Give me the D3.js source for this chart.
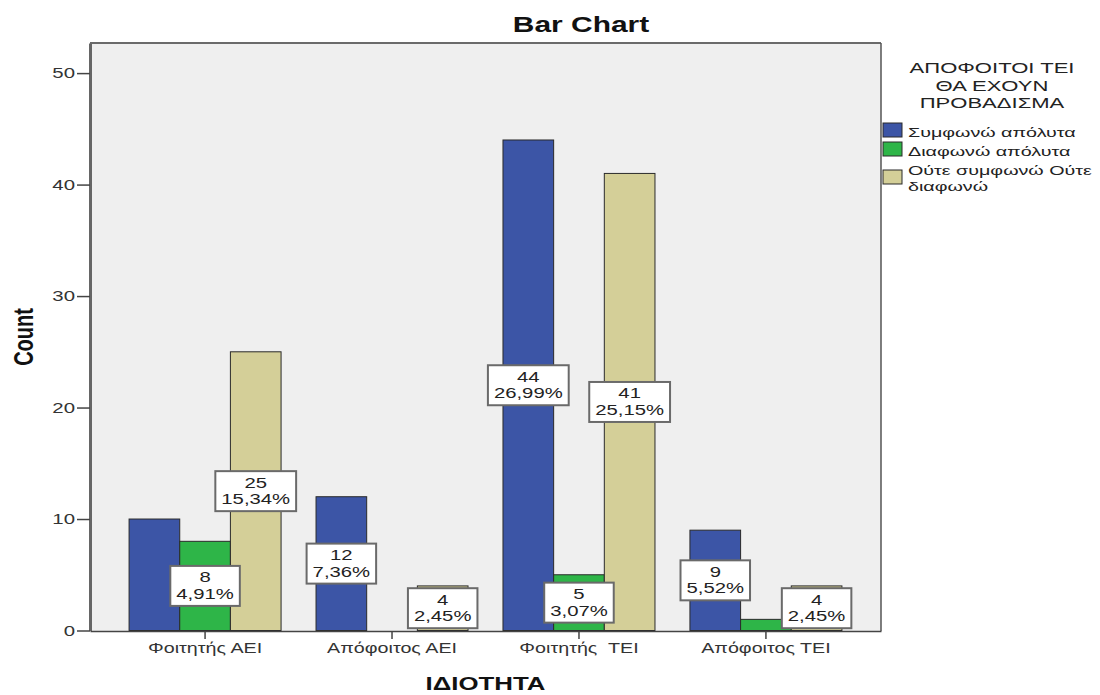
<!DOCTYPE html>
<html><head><meta charset="utf-8">
<script src="https://cdn.jsdelivr.net/npm/d3@7"></script>
<style>
body{margin:0;background:#fff;}
svg{display:block;font-family:"Liberation Sans",Arial,sans-serif;}
</style></head>
<body><svg id="chart" width="1100" height="695"></svg>
<script>
// ---------- data ----------
const categories = ["Φοιτητής ΑΕΙ", "Απόφοιτος ΑΕΙ", "Φοιτητής  ΤΕΙ", "Απόφοιτος ΤΕΙ"];
const seriesNames = ["Συμφωνώ απόλυτα", "Διαφωνώ απόλυτα", "Ούτε συμφωνώ Ούτε διαφωνώ"];
const legendLines = [["Συμφωνώ απόλυτα"], ["Διαφωνώ απόλυτα"], ["Ούτε συμφωνώ Ούτε", "διαφωνώ"]];
const agreeValues    = [10, 12, 44, 9];
const disagreeValues = [8, 0, 5, 1];
const neutralValues  = [25, 4, 41, 4];
const agreeShown     = [false, true, true, true];
const disagreeShown  = [true, false, true, false];
const neutralShown   = [true, true, true, true];
const yTicks = [0, 10, 20, 30, 40, 50];
const legendTitle = ["ΑΠΟΦΟΙΤΟΙ ΤΕΙ", "ΘΑ ΕΧΟΥΝ", "ΠΡΟΒΑΔΙΣΜΑ"];
const colors = ["#3c55a6", "#2eb548", "#d4cf98"];

// ---------- layout ----------
const K = 1.36; // horizontal glyph stretch of the reference
const L = 90, R = 881, T = 43, B = 631;
const svg = d3.select("#chart");

const seriesValues = [agreeValues, disagreeValues, neutralValues];
const seriesShown = [agreeShown, disagreeShown, neutralShown];
const total = d3.sum(seriesValues.flat());
const rows = [];
categories.forEach((c, i) => seriesValues.forEach((vals, s) =>
  rows.push({cat: c, s, v: vals[i], shown: seriesShown[s][i]})));

const x0 = d3.scaleBand().domain(categories).range([L, R]).paddingInner(0.187).paddingOuter(0.209);
const x1 = d3.scaleBand().domain(d3.range(seriesNames.length)).range([0, x0.bandwidth()]);
const y = d3.scaleLinear().domain([0, 52.7]).range([630.5, T]);

function stext(parent, x, yy, str, o = {}) {
  const k = o.k || K;
  const g = parent.append("g").attr("transform", `translate(${x},${yy}) scale(${k},1)` + (o.rot ? ` rotate(${o.rot})` : ""));
  return g.append("text").text(str)
    .attr("text-anchor", o.anchor || "start")
    .attr("font-size", o.size || 15)
    .attr("font-weight", o.weight || "normal")
    .attr("fill", o.fill || "#1a1a1a");
}

// plot background
svg.append("rect").attr("x", L).attr("y", T).attr("width", R - L).attr("height", B - T).attr("fill", "#efefef");

// bars
svg.append("g").selectAll("rect").data(rows.filter(d => d.v > 0)).join("rect")
  .attr("x", d => x0(d.cat) + x1(d.s))
  .attr("y", d => y(d.v))
  .attr("width", x1.bandwidth())
  .attr("height", d => y(0) - y(d.v))
  .attr("fill", d => colors[d.s])
  .attr("stroke", "#2a2a2a").attr("stroke-width", 1);

// frame
svg.append("line").attr("x1", L).attr("x2", R).attr("y1", T).attr("y2", T).attr("stroke", "#6a6a6a").attr("stroke-width", 2);
svg.append("line").attr("x1", R).attr("x2", R).attr("y1", T).attr("y2", B).attr("stroke", "#555").attr("stroke-width", 1.5);

// y axis
const yAxis = svg.append("g").attr("transform", `translate(${L},0)`)
  .call(d3.axisLeft(y).tickValues(yTicks).tickSize(13).tickPadding(2).tickSizeOuter(0));
yAxis.select(".domain").attr("stroke", "#666").attr("stroke-width", 3);
yAxis.selectAll(".tick line").attr("stroke", "#444").attr("stroke-width", 1.5);
yAxis.selectAll(".tick text").attr("x", 0).attr("transform", "translate(-15,0) scale(" + K + ",1)")
  .attr("font-size", 15).attr("fill", "#333").attr("font-family", null);

// x axis
const xAxis = svg.append("g").attr("transform", `translate(0,${B})`)
  .call(d3.axisBottom(x0).tickSize(8).tickPadding(4).tickSizeOuter(0));
xAxis.select(".domain").attr("stroke", "#444").attr("stroke-width", 1.5);
xAxis.selectAll(".tick line").attr("stroke", "#444").attr("stroke-width", 1.5);
xAxis.selectAll(".tick text").attr("transform", "scale(" + K + ",1)")
  .attr("font-size", 14.5).attr("fill", "#333").attr("font-family", null).style("white-space", "pre");

// value labels
const fmt = d3.format(".2f");
const lab = svg.append("g");
rows.filter(d => d.shown && d.v > 0).forEach(d => {
  const cx = x0(d.cat) + x1(d.s) + x1.bandwidth() / 2;
  const cy = y(d.v / 2);
  const g = lab.append("g");
  const box = g.append("rect");
  const t1 = stext(g, cx, cy - 3.5, String(d.v), {anchor: "middle", size: 14, k: 1.45, fill: "#222"});
  const pct = fmt(d.v / total * 100).replace(".", ",") + "%";
  const t2 = stext(g, cx, cy + 13, pct, {anchor: "middle", size: 14, k: 1.45, fill: "#222"});
  const w = Math.max(t1.node().getComputedTextLength(), t2.node().getComputedTextLength()) * 1.45 + 12;
  box.attr("x", cx - w / 2).attr("y", cy - 20).attr("width", w).attr("height", 40)
    .attr("fill", "#fff").attr("stroke", "#6a6a6a").attr("stroke-width", 2);
});

// title & axis titles
stext(svg, 581, 32, "Bar Chart", {anchor: "middle", size: 22, weight: "bold", fill: "#111"});
stext(svg, (L + R) / 2, 690, "ΙΔΙΟΤΗΤΑ", {anchor: "middle", size: 19, weight: "bold", fill: "#111"});
stext(svg, 33, (T + B) / 2, "Count", {anchor: "middle", size: 20, weight: "bold", fill: "#111", rot: -90});

// legend
legendTitle.forEach((t, i) => stext(svg, 992, 73 + i * 17.5, t, {anchor: "middle", size: 15, k: 1.47, fill: "#222"}));
const legY = [123, 142, 170];
const legTextY = [137, 156, 175];
seriesNames.forEach((n, i) => {
  svg.append("rect").attr("x", 883).attr("y", legY[i]).attr("width", 19).attr("height", 14)
    .attr("fill", colors[i]).attr("stroke", "#2a2a2a").attr("stroke-width", 1);
  legendLines[i].forEach((line, j) =>
    stext(svg, 908, legTextY[i] + j * 15.5, line, {size: 13.5, k: 1.46, fill: "#222"}));
});
</script></body></html>
